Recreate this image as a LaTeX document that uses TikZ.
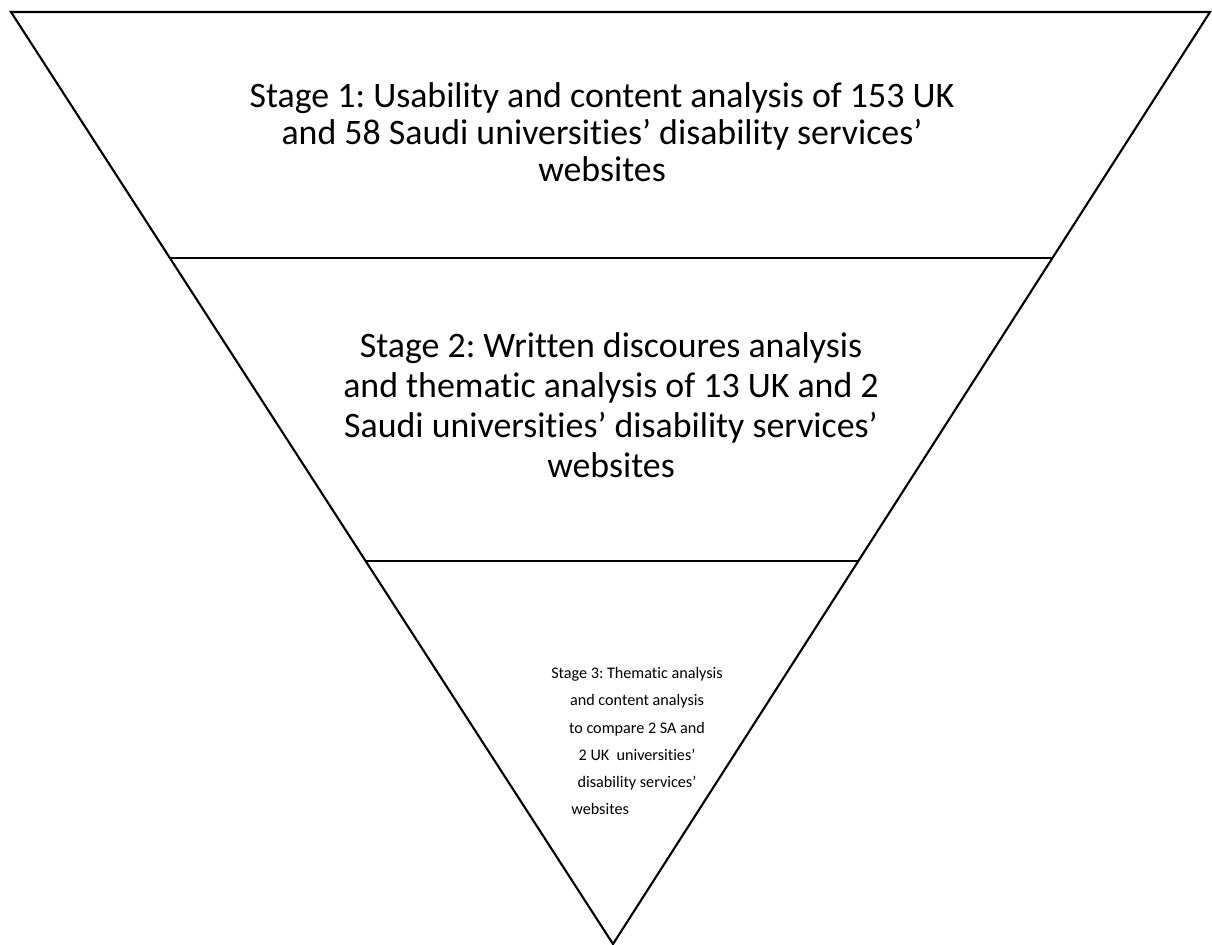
\documentclass[tikz,border=0pt]{standalone}
\usepackage{fontspec}
\setmainfont{Carlito}[Ligatures=NoCommon]
\usetikzlibrary{calc}
\frenchspacing

\begin{document}
\begin{tikzpicture}[x=0.02cm, y=-0.02cm,
					funnel/.style={draw=black, line width=1.2pt, line join=miter},
					divider/.style={draw=black, line width=1.2pt},
					stagetop/.style={align=center, inner sep=0pt, font=\fontsize{20.4}{21}\selectfont},
					stagemid/.style={align=center, inner sep=0pt, font=\fontsize{20.4}{22.8}\selectfont},
					stagesmall/.style={align=center, inner sep=0pt, font=\fontsize{9.2}{15.4}\selectfont}
					]
					\useasboundingbox (0,0) rectangle (1212,944);
					\coordinate (TL) at (11,12);
					\coordinate (TR) at (1210,12);
					\coordinate (apex) at (613,944);
					\draw[funnel] (TL) -- (TR) -- (apex) -- cycle;
					% the two cuts across the funnel
					\coordinate (A1) at ($(TL)!0.264!(apex)$);
					\coordinate (B1) at ($(TR)!0.264!(apex)$);
					\coordinate (A2) at ($(TL)!0.589!(apex)$);
					\coordinate (B2) at ($(TR)!0.589!(apex)$);
					\draw[divider] (A1) -- (B1);
					\draw[divider] (A2) -- (B2);
					\node[stagetop] (S1) at (602,132) {Stage 1: Usability and content analysis of 153 UK\\
						and 58 Saudi universities’ disability services’\\ websites};
					\node[stagemid] (S2) at (611,405) {Stage 2: Written discoures analysis\\
						and thematic analysis of 13 UK and 2\\ Saudi universities’ disability services’\\ websites};
					\node[stagesmall] (S3) at (637,741) {Stage 3: Thematic analysis\\ and content analysis\\
						to compare 2 SA and\\ 2 UK~~universities’\\ disability services’\\ websites\hspace*{42pt}};
				\end{tikzpicture}
\end{document}
